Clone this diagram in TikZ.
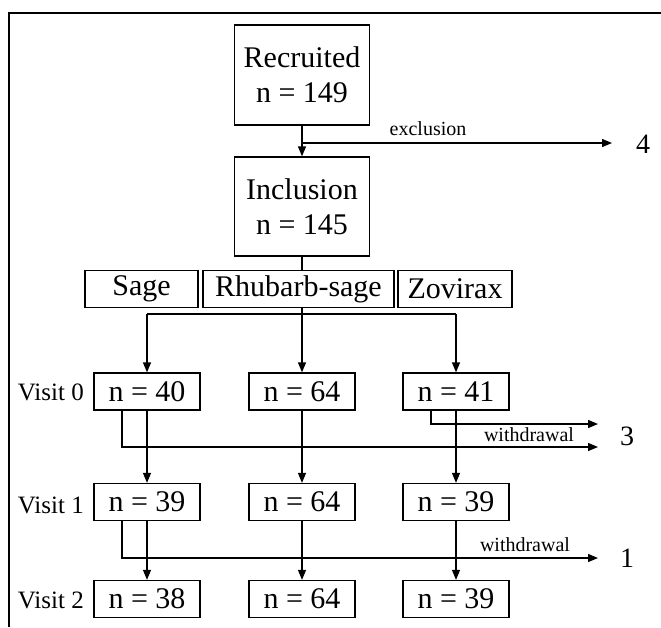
\documentclass[tikz,border=0pt]{standalone}
\usepackage{fontspec}
\setmainfont{Liberation Serif}
\usetikzlibrary{arrows.meta}
\begin{document}
\begin{tikzpicture}[x=1pt,y=-1pt,
  box/.style={draw,line width=1.3pt,inner sep=0pt,align=center,font=\fontsize{30}{35}\selectfont},
  big/.style={box,minimum width=135pt,minimum height=100pt},
  tr/.style={box,minimum height=37pt},
  vb/.style={box,minimum width=106pt,minimum height=37pt},
  lab/.style={inner sep=0pt,font=\fontsize{25}{28}\selectfont},
  small/.style={inner sep=0pt,font=\fontsize{20}{24}\selectfont},
  num/.style={inner sep=0pt,font=\fontsize{28}{32}\selectfont},
  ln/.style={line width=1.3pt},
  arr/.style={ln,-{Triangle[length=10pt,width=8pt]}}]
\useasboundingbox (0,0) rectangle (661,627);
\draw[ln] (9,627) -- (9,13) -- (661,13);

\node[big] (rec) at (302,75) {Recruited\\n = 149};
\node[big,minimum height=99pt] (inc) at (302,206.5) {Inclusion\\n = 145};
\node[tr,minimum width=113pt] (sage) at (141.5,289) {Sage};
\node[tr,minimum width=191pt] (rhub) at (298.5,289) {Rhubarb-sage};
\node[tr,minimum width=114pt] (zov) at (455,289) {Zovirax};

\node[vb] (a0) at (147,391.5) {n = 40};
\node[vb] (b0) at (302,391.5) {n = 64};
\node[vb] (c0) at (456,391.5) {n = 41};
\node[vb] (a1) at (147,502) {n = 39};
\node[vb] (b1) at (302,502) {n = 64};
\node[vb] (c1) at (456,502) {n = 39};
\node[vb] (a2) at (147,599) {n = 38};
\node[vb] (b2) at (302,599) {n = 64};
\node[vb] (c2) at (456,599) {n = 39};

\node[lab,anchor=east] (l0) at (84,392) {Visit 0};
\node[lab,anchor=east] (l1) at (84,505) {Visit 1};
\node[lab,anchor=east] (l2) at (84,600) {Visit 2};

% exclusion
\coordinate (ex) at (302,143);
\coordinate (exe) at (612,143);
\draw[arr] (rec.south) -- (inc.north);
\draw[arr] (ex) -- (exe);
\node[small] (exl) at (428,129) {exclusion};
\node[num] (n4) at (643,144) {4};

% randomisation
\draw[ln] (inc.south) -- (inc.south |- rhub.north);
\coordinate (sp) at (302,314);
\draw[ln] (inc.south |- rhub.south) -- (sp);
\draw[ln] (147,314) -- (456,314);
\draw[arr] (147,314) -- (a0.north);
\draw[arr] (sp) -- (b0.north);
\draw[arr] (456,314) -- (c0.north);

% visits
\draw[arr] (a0.south) -- (a1.north);
\draw[arr] (b0.south) -- (b1.north);
\draw[arr] (c0.south) -- (c1.north);
\draw[arr] (a1.south) -- (a2.north);
\draw[arr] (b1.south) -- (b2.north);
\draw[arr] (c1.south) -- (c2.north);

% withdrawals
\coordinate (w1) at (598,424);
\coordinate (w2) at (598,447);
\coordinate (w3) at (598,558);
\draw[arr] (431,410) |- (w1);
\draw[arr] (122,410) |- (w2);
\draw[arr] (122,520.5) |- (w3);
\node[small] (wl1) at (529,435) {withdrawal};
\node[num] (n3) at (627,436) {3};
\node[small] (wl2) at (525,545) {withdrawal};
\node[num] (n1) at (627,558) {1};
\end{tikzpicture}
\end{document}
